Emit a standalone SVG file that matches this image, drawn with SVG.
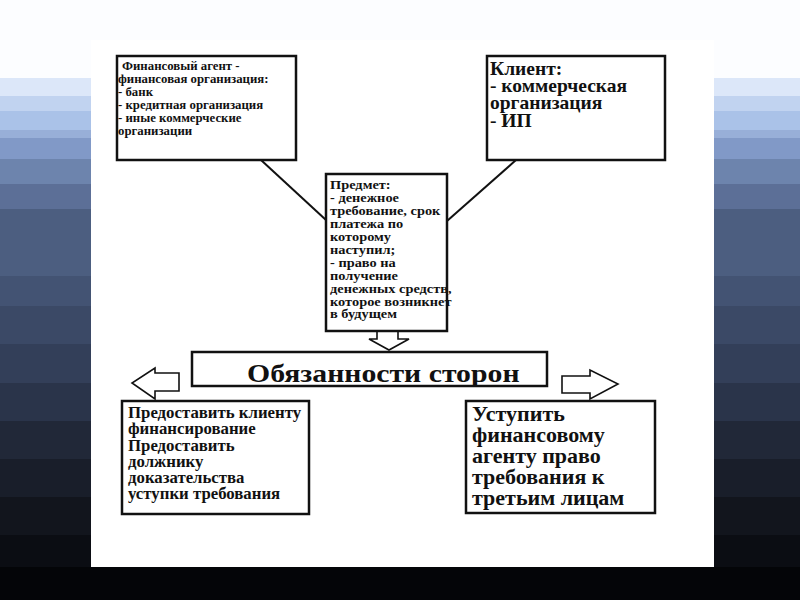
<svg xmlns="http://www.w3.org/2000/svg" width="800" height="600" viewBox="0 0 800 600">
<style>
.box{fill:#fff;stroke:#111;stroke-width:2.5}
.t{font-family:"Liberation Serif","Times New Roman",serif;font-weight:bold;fill:#111}
.conn{stroke:#111;stroke-width:2;fill:none}
.blk{fill:#fff;stroke:#111;stroke-width:1.6;stroke-linejoin:miter}
</style>
<g id="background">
<rect x="0" y="0" width="800" height="78" fill="#fcfdff"/>
<rect x="0" y="78" width="800" height="18" fill="#dce7f9"/>
<rect x="0" y="96" width="800" height="15" fill="#c1d3f0"/>
<rect x="0" y="111" width="800" height="19" fill="#aac2e8"/>
<rect x="0" y="130" width="800" height="8" fill="#98afd8"/>
<rect x="0" y="138" width="800" height="21" fill="#8199c7"/>
<rect x="0" y="159" width="800" height="25" fill="#6d84ad"/>
<rect x="0" y="184" width="800" height="25" fill="#5c6f97"/>
<rect x="0" y="209" width="800" height="67" fill="#4c5e80"/>
<rect x="0" y="276" width="800" height="30" fill="#435373"/>
<rect x="0" y="306" width="800" height="38" fill="#3b4966"/>
<rect x="0" y="344" width="800" height="39" fill="#333f59"/>
<rect x="0" y="383" width="800" height="38" fill="#2a344a"/>
<rect x="0" y="421" width="800" height="38" fill="#212838"/>
<rect x="0" y="459" width="800" height="38" fill="#191e2a"/>
<rect x="0" y="497" width="800" height="38" fill="#12151d"/>
<rect x="0" y="535" width="800" height="32" fill="#0b0d13"/>
<rect x="0" y="567" width="800" height="33" fill="#040508"/>
<rect x="91" y="40" width="623" height="527" fill="#fff"/>
</g>
<g id="connectors">
<line class="conn" x1="261" y1="160" x2="326" y2="220"/>
<line class="conn" x1="516" y1="160" x2="447" y2="221"/>
<polygon class="blk" points="377,331 398,331 398,339 409,339 389,350 369,339 377,339"/>
<polygon class="blk" points="179,373 179,391 155,391 155,399 132,383 155,368 155,373"/>
<polygon class="blk" points="562,376 590,376 590,370 618,384 590,399 590,393 562,393"/>
</g>
<g id="agent">
<rect class="box" x="117" y="56" width="179" height="104"/>
<text class="t" font-size="12.8">
<tspan x="122" y="70">Финансовый агент -</tspan>
<tspan x="118" y="83">финансовая организация:</tspan>
<tspan x="118" y="96">- банк</tspan>
<tspan x="118" y="109">- кредитная организация</tspan>
<tspan x="118" y="122">- иные коммерческие</tspan>
<tspan x="118" y="135">организации</tspan>
</text>
</g>
<g id="client">
<rect class="box" x="487" y="56" width="178" height="104"/>
<text class="t" font-size="19.5">
<tspan x="490" y="75">Клиент:</tspan>
<tspan x="490" y="92">- коммерческая</tspan>
<tspan x="490" y="109">организация</tspan>
<tspan x="490" y="127">- ИП</tspan>
</text>
</g>
<g id="subject">
<rect class="box" x="326" y="174" width="121" height="157"/>
<text class="t" font-size="12.5" transform="translate(330,0) scale(1.15,1)">
<tspan x="0" y="189">Предмет:</tspan>
<tspan x="0" y="202">- денежное</tspan>
<tspan x="0" y="215">требование, срок</tspan>
<tspan x="0" y="228">платежа по</tspan>
<tspan x="0" y="241">которому</tspan>
<tspan x="0" y="254">наступил;</tspan>
<tspan x="0" y="267">- право на</tspan>
<tspan x="0" y="280">получение</tspan>
<tspan x="0" y="293">денежных средств,</tspan>
<tspan x="0" y="306">которое возникнет</tspan>
<tspan x="0" y="318">в будущем</tspan>
</text>
</g>
<g id="duties">
<rect class="box" x="192" y="352" width="355" height="34"/>
<text class="t" font-size="25" transform="translate(247,382) scale(1.19,1)" x="0" y="0">Обязанности сторон</text>
</g>
<g id="left-duties">
<rect class="box" x="122" y="401" width="187" height="113"/>
<text class="t" font-size="16.8">
<tspan x="128" y="418">Предоставить клиенту</tspan>
<tspan x="128" y="434">финансирование</tspan>
<tspan x="128" y="451">Предоставить</tspan>
<tspan x="128" y="467">должнику</tspan>
<tspan x="128" y="483">доказательства</tspan>
<tspan x="128" y="499">уступки требования</tspan>
</text>
</g>
<g id="right-duties">
<rect class="box" x="466" y="401" width="189" height="112"/>
<text class="t" font-size="22">
<tspan x="472" y="421">Уступить</tspan>
<tspan x="472" y="442">финансовому</tspan>
<tspan x="472" y="463">агенту право</tspan>
<tspan x="472" y="484">требования к</tspan>
<tspan x="472" y="505">третьим лицам</tspan>
</text>
</g>
</svg>
